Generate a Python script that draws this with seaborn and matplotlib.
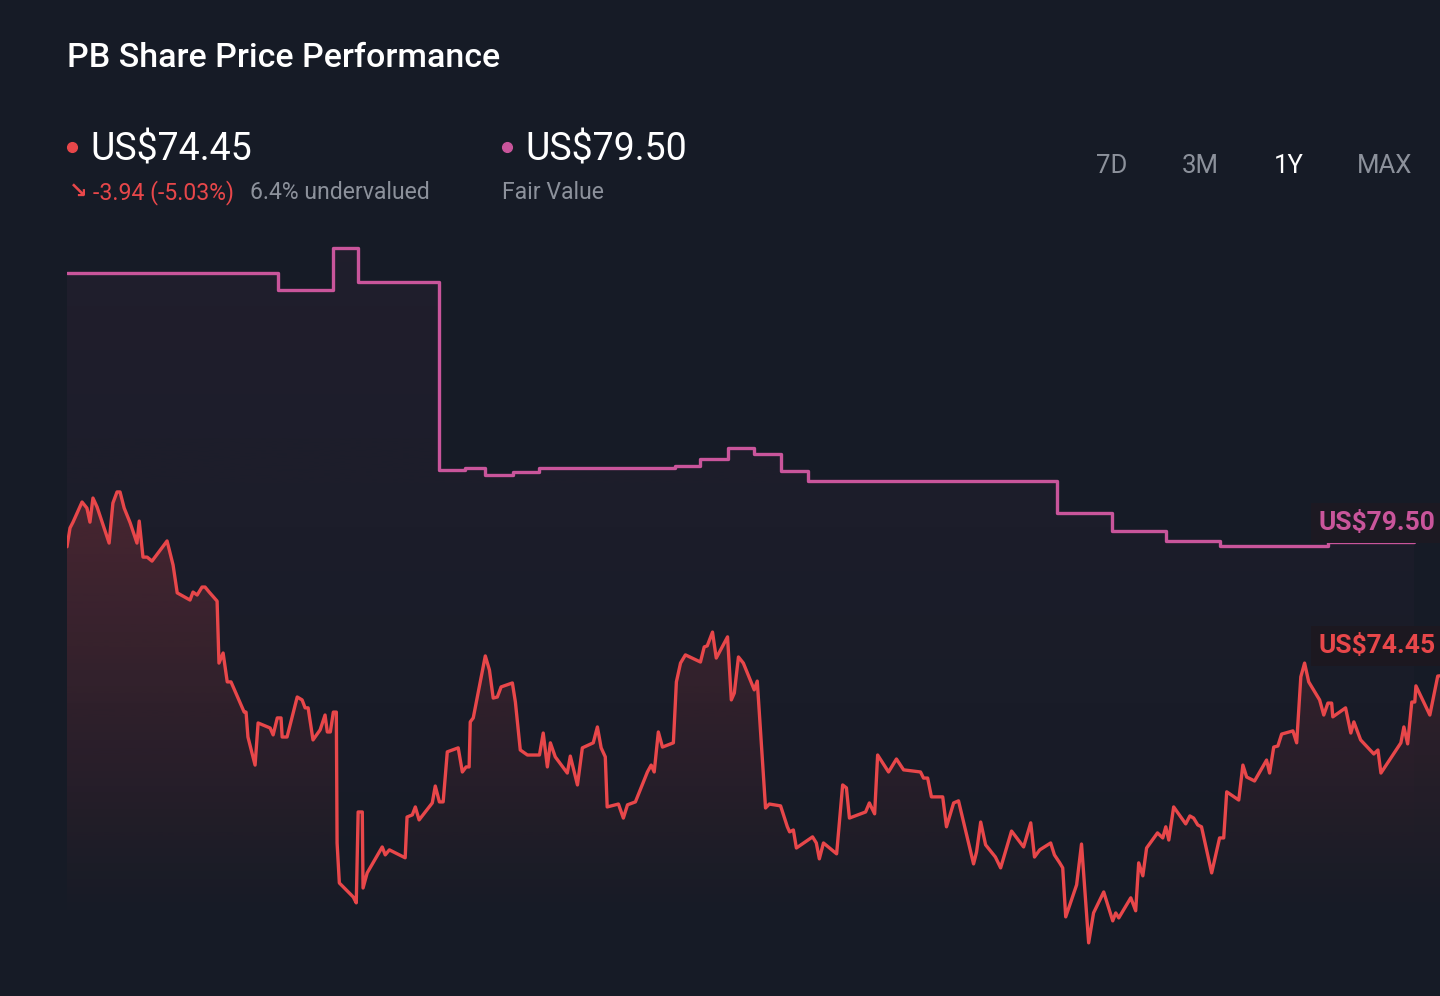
import numpy as np
import seaborn as sns
import matplotlib.pyplot as plt
from matplotlib.colors import to_rgb
from matplotlib.lines import Line2D

# share price, one point per session (days since start of the 1Y window)
price_days = [0.0, 0.8, 1.6, 4.0, 5.3, 6.1, 6.9, 8.0, 9.6, 11.2,
              12.2, 13.3, 14.1, 15.2, 16.8, 18.6, 19.2, 20.2, 21.3, 22.6,
              26.6, 28.2, 29.3, 32.7, 33.5, 34.6, 35.9, 36.7, 37.8, 39.9,
              40.4, 41.5, 42.6, 43.6, 47.1, 47.6, 48.1, 50.0, 50.8, 54.0,
              54.8, 55.9, 56.9, 57.2, 58.5, 61.2, 62.5, 63.3, 64.1, 65.4,
              67.3, 68.6, 69.2, 70.0, 70.8, 71.6, 71.8, 72.4, 76.1, 76.9,
              77.4, 78.5, 78.7, 79.8, 83.8, 84.6, 85.7, 89.9, 90.4, 91.8,
              92.6, 93.6, 97.1, 97.9, 99.0, 100.0, 101.1, 104.0, 105.1, 106.1,
              106.9, 107.2, 108.0, 111.2, 112.3, 113.3, 114.4, 115.4, 118.4, 119.2,
              120.5, 122.4, 125.6, 126.6, 127.7, 128.5, 129.8, 133.0, 133.8, 135.7,
              137.0, 139.9, 141.0, 142.0, 143.1, 143.6, 146.6, 147.9, 149.0, 151.1,
              154.3, 155.3, 156.1, 157.2, 158.3, 161.2, 162.0, 163.1, 164.4, 168.4,
              169.4, 170.2, 171.6, 172.6, 175.6, 176.6, 177.4, 178.5, 179.8, 182.7,
              183.5, 185.7, 186.7, 189.7, 191.5, 192.1, 193.1, 193.9, 198.2, 199.2,
              200.0, 201.1, 204.6, 206.2, 207.2, 208.0, 212.3, 213.3, 214.7, 215.5,
              218.4, 220.5, 222.4, 226.9, 227.7, 228.8, 229.8, 232.8, 233.8, 235.7,
              237.0, 241.0, 241.8, 242.9, 244.2, 246.8, 248.2, 251.1, 254.3, 256.2,
              257.2, 258.6, 261.5, 262.5, 263.9, 264.7, 265.5, 268.4, 269.7, 271.6,
              272.9, 275.6, 278.0, 278.8, 279.6, 282.8, 284.1, 284.9, 286.0, 287.0,
              289.9, 291.3, 292.1, 292.9, 294.2, 297.4, 298.5, 299.5, 300.6, 301.6,
              304.3, 306.4, 307.5, 308.3, 311.5, 312.6, 313.6, 315.7, 318.9, 319.7,
              320.8, 321.9, 322.9, 325.9, 326.9, 328.0, 329.0, 330.1, 333.0, 334.1,
              335.2, 336.2, 336.5, 339.9, 341.3, 342.1, 343.9, 347.4, 348.5, 349.3,
              354.6, 355.4, 356.4, 357.5, 358.3, 358.6, 362.3, 364.4, 365.0]
price_values = [79.32, 80.03, 80.25, 81.01, 80.78, 80.25, 81.16, 80.82, 80.14, 79.46,
                80.97, 81.39, 81.39, 80.78, 80.22, 79.46, 80.29, 78.93, 78.93, 78.78,
                79.54, 78.63, 77.58, 77.31, 77.61, 77.50, 77.80, 77.80, 77.61, 77.27,
                74.93, 75.31, 74.22, 74.22, 73.08, 73.08, 72.14, 71.08, 72.67, 72.48,
                72.22, 72.86, 72.86, 72.14, 72.14, 73.65, 73.54, 73.24, 73.24, 72.03,
                72.41, 72.97, 72.33, 72.33, 73.08, 73.08, 68.14, 66.63, 66.10, 65.88,
                69.31, 69.31, 66.44, 67.01, 67.99, 67.69, 67.88, 67.58, 69.12, 69.20,
                69.50, 69.01, 69.65, 70.29, 69.69, 69.69, 71.58, 71.73, 70.82, 71.01,
                71.01, 72.71, 72.86, 75.20, 74.67, 73.61, 73.65, 74.03, 74.18, 73.46,
                71.65, 71.46, 71.46, 72.29, 71.01, 71.92, 71.39, 70.78, 71.42, 70.33,
                71.73, 71.92, 72.52, 71.73, 71.39, 69.50, 69.61, 69.08, 69.58, 69.69,
                70.82, 71.08, 70.82, 72.33, 71.76, 71.92, 74.22, 74.93, 75.24, 74.97,
                75.54, 75.58, 76.10, 75.12, 75.92, 73.54, 73.80, 75.16, 74.93, 73.92,
                74.25, 69.46, 69.61, 69.54, 68.75, 68.56, 68.63, 67.95, 68.37, 68.14,
                67.54, 68.14, 67.73, 70.33, 70.22, 69.08, 69.31, 69.65, 69.24, 71.46,
                70.82, 71.31, 70.90, 70.82, 70.59, 70.59, 69.88, 69.88, 68.75, 69.65,
                69.73, 67.35, 67.80, 68.93, 68.07, 67.61, 67.20, 68.59, 67.99, 68.90,
                67.61, 67.88, 68.14, 67.69, 67.39, 67.20, 65.35, 66.56, 68.10, 64.37,
                65.50, 66.29, 65.20, 65.50, 65.31, 66.07, 65.58, 67.39, 66.90, 67.95,
                68.52, 68.33, 68.75, 68.25, 69.50, 68.86, 69.16, 69.08, 68.82, 68.75,
                67.01, 68.33, 68.33, 70.07, 69.76, 71.08, 70.63, 70.48, 71.27, 70.78,
                71.76, 71.80, 72.25, 72.37, 71.92, 74.41, 74.93, 74.22, 73.54, 72.97,
                73.42, 73.42, 72.90, 73.24, 72.29, 72.71, 72.03, 71.50, 71.65, 70.78,
                71.92, 72.52, 71.88, 73.46, 73.46, 74.07, 72.97, 74.44, 74.45]

# fair value estimate (step changes)
fv_days = [0.0, 56.1, 70.8, 77.4, 99.0, 105.9, 111.2, 118.6, 125.6, 161.5, 168.4,
           175.8, 182.7, 189.9, 197.1, 263.3, 277.7, 292.1, 306.4, 335.2, 358.0]
fv_values = [89.66, 89.01, 90.61, 89.32, 82.22, 82.30, 82.03, 82.13, 82.28, 82.38, 82.63,
             83.04, 82.82, 82.18, 81.81, 80.58, 79.92, 79.55, 79.36, 79.50, 79.50]

ranges = ["7D", "3M", "1Y", "MAX"]
active_range = "1Y"

BG = "#161b26"
RED = "#e8474a"
PINK = "#c9559b"
GREY = "#8c919b"
Y_LIM = (64.1, 90.9)

sns.set_theme(style="dark", rc={"axes.facecolor": BG, "figure.facecolor": BG})
plt.rcParams["font.family"] = ["Roboto", "DejaVu Sans"]

fig = plt.figure(figsize=(14.4, 9.96), dpi=100)
ax = fig.add_axes([67 / 1440, 46 / 996, 1373 / 1440, 710 / 996])


def gradient_fill(x, y, color, a_top, a_bot, fade_to, step=None, z=1):
    # fill under the line with a vertical colour fade, clipped to the area
    poly = ax.fill_between(x, y, Y_LIM[0], step=step, facecolor="none", edgecolor="none")
    grad = np.zeros((256, 1, 4))
    grad[..., :3] = to_rgb(color)
    grad[..., 3] = np.linspace(a_top, a_bot, 256)[:, None]
    im = ax.imshow(grad, aspect="auto", origin="upper", zorder=z,
                   extent=[x[0], x[-1], fade_to, max(y)])
    im.set_clip_path(poly.get_paths()[0], transform=ax.transData)


gradient_fill(fv_days, fv_values, PINK, 0.06, 0.0, 65.0, step="post", z=1)
gradient_fill(price_days, price_values, RED, 0.22, 0.0, 65.0, z=2)

sns.lineplot(x=fv_days, y=fv_values, ax=ax, color=PINK, linewidth=2.4,
             drawstyle="steps-post", estimator=None, sort=False, zorder=3)
sns.lineplot(x=price_days, y=price_values, ax=ax, color=RED, linewidth=2.4,
             estimator=None, sort=False, zorder=4)

ax.set_xlim(0, 365)
ax.set_ylim(*Y_LIM)
ax.set_axis_off()

# end-of-line value tags
ax.annotate(f"US${fv_values[-1]:.2f}", xy=(365, fv_values[-1]), xytext=(-121, 12),
            textcoords="offset pixels", color=PINK, fontsize=19, fontweight="bold",
            va="baseline", ha="left", annotation_clip=False, zorder=6,
            bbox=dict(boxstyle="square,pad=0.3", fc="#1c1922", ec="none"))
ax.annotate(f"US${price_values[-1]:.2f}", xy=(365, price_values[-1]), xytext=(-121, 23),
            textcoords="offset pixels", color=RED, fontsize=19, fontweight="bold",
            va="baseline", ha="left", annotation_clip=False, zorder=6,
            bbox=dict(boxstyle="square,pad=0.3", fc="#1c1820", ec="none"))


def fx(px):
    return px / 1440


def fy(px):
    return 1 - px / 996


fig.text(fx(67), fy(67), "PB Share Price Performance", color="white", fontsize=24.5,
         fontweight="medium", va="baseline")

# header: last price / fair value
fig.add_artist(Line2D([fx(72)], [fy(147)], marker="o", markersize=7, color=RED,
                      transform=fig.transFigure))
fig.text(fx(90), fy(160), f"US${price_values[-1]:.2f}", color="white", fontsize=27, va="baseline")
fig.text(fx(69), fy(198), "↘", color=RED, fontsize=16, va="baseline", fontweight="bold")
fig.text(fx(93), fy(199), "-3.94 (-5.03%)", color=RED, fontsize=16.6, va="baseline")
fig.text(fx(250), fy(199), "6.4% undervalued", color=GREY, fontsize=16.6, va="baseline")

fig.add_artist(Line2D([fx(507)], [fy(147)], marker="o", markersize=7, color=PINK,
                      transform=fig.transFigure))
fig.text(fx(525), fy(160), f"US${fv_values[-1]:.2f}", color="white", fontsize=27, va="baseline")
fig.text(fx(502), fy(199), "Fair Value", color=GREY, fontsize=16.6, va="baseline")

for label, cx in zip(ranges, [1112, 1200, 1289, 1385]):
    fig.text(fx(cx), fy(173), label, color="white" if label == active_range else GREY,
             fontsize=18.5, ha="center", va="baseline")

fig.savefig("out.png", dpi=100, facecolor=BG)
